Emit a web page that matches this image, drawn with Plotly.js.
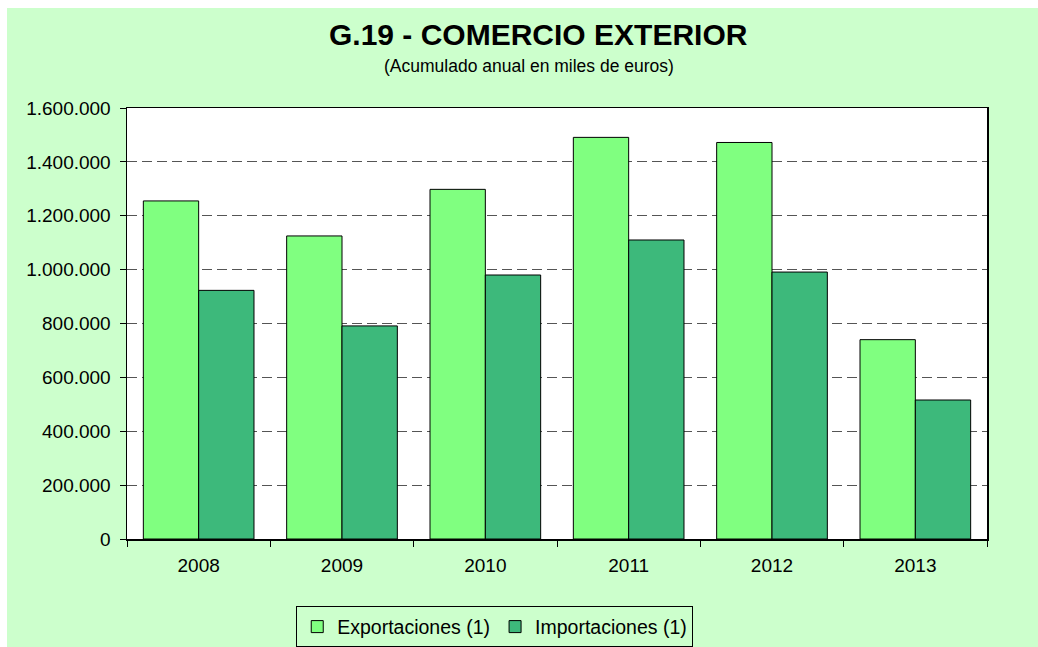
<!DOCTYPE html>
<html>
<head>
<meta charset="utf-8">
<script src="https://cdn.plot.ly/plotly-3.0.1.min.js"></script>
<style>
html,body{margin:0;padding:0;background:#CCFFCC;width:100%;height:100%;overflow:hidden;}
#wl{position:absolute;left:0;top:0;width:7px;height:100%;background:#fff;}
#wt{position:absolute;left:0;top:0;width:100%;height:8px;background:#fff;}
#chart{position:absolute;left:7px;top:8px;width:1031px;height:639px;}
</style>
</head>
<body>
<div id="wl"></div><div id="wt"></div>
<div id="chart"></div>
<script>
const years = ['2008','2009','2010','2011','2012','2013'];
const exportaciones = [1255000, 1125000, 1298000, 1491000, 1472000, 740000];
const importaciones = [923000, 791000, 980000, 1110000, 991000, 516000];
const yTicks = [0, 200000, 400000, 600000, 800000, 1000000, 1200000, 1400000, 1600000];
const titleText = 'G.19 - COMERCIO EXTERIOR';
const subtitleText = '(Acumulado anual en miles de euros)';
const seriesNames = ['Exportaciones (1)', 'Importaciones (1)'];

const font = 'Liberation Sans, Arial, sans-serif';
const traces = [
  {type:'bar', x: years, y: exportaciones, name: seriesNames[0],
   marker:{color:'#80FF80', line:{color:'#000', width:1}}},
  {type:'bar', x: years, y: importaciones, name: seriesNames[1],
   marker:{color:'#3DB97B', line:{color:'#000', width:1}}}
];
const layout = {
  width:1031, height:639,
  margin:{l:120, r:51, t:100, b:108, autoexpand:false},
  paper_bgcolor:'#CCFFCC', plot_bgcolor:'#FFFFFF',
  separators:',.',
  font:{family:font, size:19, color:'#000'},
  barmode:'group', bargap:0.228, bargroupgap:0,
  showlegend:true,
  legend:{orientation:'h', x:0.4276, xanchor:'center', y:-0.204, yanchor:'middle',
    bgcolor:'#CCFFCC', bordercolor:'#000', borderwidth:1, font:{size:19.5},
    itemwidth:30, tracegroupgap:0},
  xaxis:{type:'category', showline:true, linecolor:'#000', linewidth:1.5, mirror:true,
    ticks:'outside', tickson:'boundaries', ticklen:6, tickcolor:'#000',
    ticklabelstandoff:9, showgrid:false, tickfont:{size:19}},
  yaxis:{range:[0,1600000], tickvals:yTicks, tickformat:',d', showline:true, linecolor:'#000',
    linewidth:1.5, mirror:true, ticks:'outside', ticklen:6, tickcolor:'#000',
    ticklabelstandoff:5,
    showgrid:true, gridcolor:'#555', griddash:'10px,5px', gridwidth:1, zeroline:false,
    tickfont:{size:19}},
  annotations:[
    {text:'<b>'+titleText+'</b>', xref:'paper', yref:'paper', x:0.478, y:1.1694,
     xanchor:'center', yanchor:'middle', showarrow:false, font:{size:30, family:font}},
    {text:subtitleText, xref:'paper', yref:'paper', x:0.468, y:1.0974,
     xanchor:'center', yanchor:'middle', showarrow:false, font:{size:17.5, family:font}}
  ]
};
Plotly.newPlot('chart', traces, layout, {displayModeBar:false, staticPlot:true});
</script>
</body>
</html>
